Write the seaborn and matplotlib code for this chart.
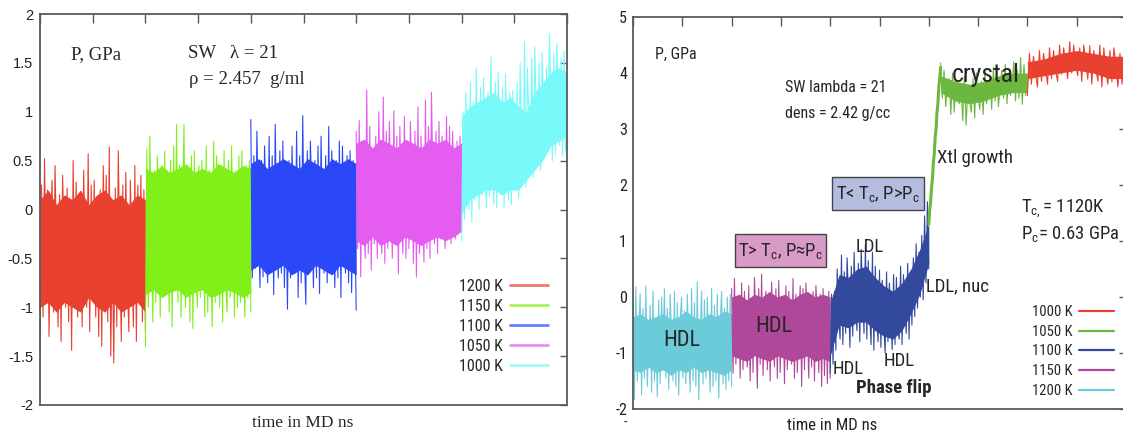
import numpy as np
import matplotlib
matplotlib.use("Agg")
import matplotlib.pyplot as plt
import seaborn as sns
from matplotlib import font_manager as fm
from matplotlib.lines import Line2D
from matplotlib.patches import Rectangle

# ---------------- LEFT PANEL data: SW lambda = 21, rho = 2.457 g/ml ----------------
L_labels = ["1200 K", "1150 K", "1100 K", "1050 K", "1000 K"]
L_spans = [(0, 2), (2, 4), (4, 6), (6, 8), (8, 10)]
L_yticks = [-2, -1.5, -1, -0.5, 0, 0.5, 1, 1.5, 2]
L_yticklabels = ["-2", "-1.5", "-1", "-0.5", "0", "0.5", "1", "1.5", "2"]

L_red = [-1.52, 0.25, -1.1, 0.52, -0.6, 0.2, -1.3, -0.2, 0.3, -1.05, 0.45, -0.4, -1.2, 0.15, -1.35,
         0.35, -0.3, -1.0, 0.22, -1.15, 0.0, -1.44, 0.5, -0.7, 0.28, -1.1, -0.1, 0.18, -1.2, 0.4,
         -0.5, -1.0, 0.57, -1.25, 0.25, -0.8, 0.3, -1.1, -0.2, -1.3, 0.2, -1.4, 0.45, -0.6, 0.35,
         -1.15, 0.64, -1.5, -0.3, -1.57, 0.22, -1.2, 0.6, -0.5, -1.35, 0.25, -1.1, 0.38, -0.7, -1.25,
         0.3, -0.4, -1.2, 0.45, -1.35, 0.25, -0.9, 0.35, -1.15, 0.2, -1.25]
L_red_core_hi = [0.1, 0.2, 0.05, 0.15, 0.1, 0.2, 0.05, 0.15, 0.2, 0.1, 0.15, 0.05, 0.15, 0.1]
L_red_core_lo = [-1.0, -0.95, -1.05, -0.95, -1.0, -1.05, -0.9, -1.0, -1.05, -0.95, -1.05, -1.0, -0.95, -1.05]

L_grn = [-1.4, 0.62, -1.0, 0.75, -0.3, -1.15, 0.4, -0.95, 0.55, -0.2, -1.1, 0.45, -0.9, 0.6, -0.4,
         0.35, -1.05, 0.5, -1.2, 0.65, -0.5, 0.87, -0.95, 0.45, -1.1, 0.1, 0.87, -1.0, -0.3, 0.4,
         -1.15, 0.55, -1.22, 0.6, -0.6, -1.0, 0.45, -0.9, 0.5, 0.0, -1.1, 0.65, -1.05, 0.4, -0.4,
         -1.2, 0.7, -0.95, 0.55, -0.2, -1.0, 0.45, -1.15, 0.6, -0.7, -1.05, 0.5, -0.9, 0.65, -0.1,
         -1.1, 0.4, -1.0, 0.55, -0.95, 0.6, -0.5, -1.1, 0.45, -0.9, 0.5, -1.05]
L_grn_core_hi = [0.42, 0.38, 0.45, 0.38, 0.42, 0.47, 0.38, 0.42, 0.38, 0.47, 0.42, 0.38, 0.45, 0.42]
L_grn_core_lo = [-0.87, -0.82, -0.9, -0.85, -0.82, -0.9, -0.85, -0.82, -0.9, -0.87, -0.82, -0.85, -0.9, -0.85]

L_blu = [0.92, -0.7, 0.55, -0.6, 0.8, -0.1, -0.8, 0.5, -0.69, 0.65, 0.0, -0.75, 0.75, -0.6, 0.55,
         -0.87, 0.87, -0.3, -0.7, 0.6, -0.65, 0.7, -0.8, 0.2, -1.02, 0.5, -0.7, 0.65, -0.2, -0.65,
         0.8, -0.9, 0.55, -0.75, 0.96, -0.4, -0.97, 0.6, -0.65, 0.7, 0.1, -0.8, 0.5, -0.7, 0.65,
         -0.86, 0.75, -0.3, -0.65, 0.55, -0.75, 0.85, -0.6, 0.6, -0.1, -0.8, 0.5, -0.7, 0.7, -0.9,
         0.65, -0.2, -0.65, 0.55, -0.75, 0.6, -0.85, 0.5, 0.0, -1.03]
L_blu_core_hi = [0.47, 0.52, 0.42, 0.47, 0.52, 0.47, 0.42, 0.52, 0.47, 0.42, 0.52, 0.47, 0.52, 0.47]
L_blu_core_lo = [-0.62, -0.57, -0.67, -0.62, -0.57, -0.67, -0.62, -0.67, -0.57, -0.62, -0.67, -0.57, -0.62, -0.67]

L_mag = [0.8, -0.4, 0.91, -0.69, 0.7, -0.1, -0.5, 1.22, -0.45, 0.85, -0.62, 0.4, -0.35, 0.75, -0.5,
         1.0, 0.1, -0.45, 1.15, -0.55, 0.8, -0.4, 0.9, 0.2, -0.5, 1.01, -0.35, 0.75, -0.66, 0.85,
         0.0, -0.45, 0.95, -0.5, 0.7, -0.4, 0.9, 0.3, -0.55, 0.8, -0.69, 1.05, -0.45, 0.75, 0.1,
         -0.54, 1.12, -0.4, 0.85, -0.5, 1.2, 0.2, -0.35, 0.8, -0.45, 0.9, -0.3, 0.75, 0.0, -0.4,
         0.95, -0.25, 0.85, -0.35, 0.8, 0.3, -0.3, 0.7, -0.25, 0.75, -0.2]
L_mag_core_hi = [0.68, 0.72, 0.63, 0.72, 0.68, 0.63, 0.72, 0.68, 0.63, 0.72, 0.68, 0.72, 0.63, 0.68]
L_mag_core_lo = [-0.32, -0.37, -0.28, -0.37, -0.32, -0.37, -0.28, -0.32, -0.37, -0.32, -0.28, -0.32, -0.28, -0.22]

L_cya = [-0.32, 1.0, -0.1, 1.2, 0.5, 0.0, 1.3, -0.13, 1.1, 0.1, 1.45, 0.6, 0.0, 1.25, 0.15,
         1.35, 0.4, 0.02, 1.2, 0.13, 1.56, 0.7, 0.05, 1.3, 0.02, 1.4, 0.5, 0.15, 1.25, 0.02,
         1.39, 0.6, 0.1, 1.2, 0.05, 1.22, 0.7, 0.2, 1.3, 0.11, 1.5, 0.8, 0.35, 1.72, 0.23,
         1.45, 0.9, 0.45, 1.55, 0.33, 1.66, 1.0, 0.5, 1.5, 0.4, 1.6, 1.0, 0.55, 1.45, 0.6,
         1.8, 1.1, 0.5, 1.6, 0.56, 1.7, 1.2, 0.65, 1.55, 0.55, 1.62, 0.6, 1.5]
L_cya_core_hi = [0.95, 1.05, 1.1, 1.15, 1.2, 1.1, 1.15, 1.05, 1.0, 1.2, 1.3, 1.4, 1.45, 1.4]
L_cya_core_lo = [-0.05, 0.1, 0.15, 0.2, 0.2, 0.15, 0.2, 0.2, 0.3, 0.4, 0.5, 0.65, 0.7, 0.75]

# ---------------- RIGHT PANEL data: SW lambda = 21, dens = 2.42 g/cc ----------------
R_labels = ["1200 K", "1150 K", "1100 K", "1050 K", "1000 K"]
R_legend_order = ["1000 K", "1050 K", "1100 K", "1150 K", "1200 K"]
R_spans = [(0, 2), (2, 4), (4, 6), (6, 8), (8, 10)]
R_yticks = [-2, -1, 0, 1, 2, 3, 4, 5]
R_yticklabels = ["-2", "-1", "0", "1", "2", "3", "4", "5"]

R_cya = [-0.1, -1.84, 0.18, -1.5, -0.6, 0.06, -1.75, -0.2, -1.45, 0.2, -1.6, -0.9, -0.15, -1.7, 0.1,
         -1.5, -0.5, -1.78, -0.05, -1.55, 0.0, -1.0, 0.15, -1.45, -0.2, -1.65, 0.05, -0.7, -1.5, 0.1,
         -1.6, -0.1, -1.75, -0.4, 0.0, -1.45, -0.25, -1.55, 0.05, -0.9, -1.7, 0.15, -1.5, -0.1, -1.6,
         0.27, -1.84, -0.6, 0.1, -1.55, -0.05, -1.45, 0.0, -1.0, -1.7, 0.15, -1.6, -0.15, -1.5, 0.05,
         -1.8, -0.5, 0.1, -1.55, -0.2, -1.65, 0.0, -1.5, 0.05, -1.6]
R_cya_core_hi = [-0.35, -0.3, -0.4, -0.35, -0.3, -0.4, -0.35, -0.25, -0.35, -0.4, -0.3, -0.35, -0.25, -0.3]
R_cya_core_lo = [-1.3, -1.35, -1.25, -1.35, -1.3, -1.4, -1.3, -1.35, -1.25, -1.35, -1.3, -1.35, -1.4, -1.3]

R_mag = [0.15, -1.36, 0.33, -1.2, -0.4, 0.0, -1.45, 0.25, -1.3, 0.1, -0.8, -1.25, 0.2, -1.5, -0.05,
         -1.35, 0.35, -0.5, -1.63, 0.15, -1.2, 0.41, -1.4, -0.3, 0.1, -1.3, 0.05, -1.5, 0.27, -0.7,
         -1.25, 0.15, -1.45, 0.3, -1.35, -0.2, 0.0, -1.55, 0.2, -1.3, 0.1, -0.9, -1.2, 0.33, -1.45,
         0.05, -1.35, -0.4, 0.2, -1.6, 0.15, -1.3, 0.25, -0.6, -1.45, 0.0, -1.25, 0.1, -1.5, 0.2,
         -0.3, -1.35, 0.05, -1.6, 0.15, -1.4, 0.0, -1.55, 0.1, -1.45]
R_mag_core_hi = [0.0, 0.05, -0.05, 0.05, 0.0, 0.1, 0.0, 0.05, -0.05, 0.05, 0.1, 0.0, 0.05, 0.0]
R_mag_core_lo = [-1.05, -1.1, -1.15, -1.05, -1.1, -1.15, -1.05, -1.1, -1.15, -1.1, -1.05, -1.15, -1.1, -1.15]

R_blu = [-1.36, 0.05, -1.2, 0.1, -0.95, 0.5, -0.3, -0.75, 0.75, -0.85, 0.45, -0.65, 0.7, 0.0, -0.9,
         0.55, -0.7, 0.8, -0.2, -0.6, 0.6, -0.8, 0.85, 0.1, -0.65, 0.95, -0.75, 0.65, -0.3, -0.85,
         0.8, -0.95, 0.55, -0.4, -0.8, 0.48, -0.9, 0.3, -0.5, -1.0, 0.45, -0.8, 0.25, -0.3, -0.94,
         0.4, -0.85, 0.35, -0.6, -0.75, 0.55, -0.85, 0.4, -0.2, -0.65, 0.6, -0.75, 0.45, -0.5, 0.7,
         -0.35, 0.95, -0.2, 0.8, 0.0, 1.1, -0.05, 1.45, 0.25, 1.7, 0.5]
R_blu_core_hi = [-0.1, 0.4, 0.35, 0.5, 0.55, 0.35, 0.2, 0.1, 0.25, 0.5, 0.85, 1.3]
R_blu_core_lo = [-1.05, -0.5, -0.55, -0.45, -0.45, -0.6, -0.7, -0.75, -0.6, -0.3, 0.05, 0.6]

R_grn_rise = [1.3, 1.55, 1.7, 1.95, 2.1, 2.4, 2.55, 2.85, 3.0, 3.3, 3.45, 3.75, 3.9, 4.1]
R_grn_rise_end = 6.24
R_grn = [4.18, 3.55, 4.05, 3.4, 3.8, 3.9, 3.26, 4.0, 3.3, 3.85, 3.6, 3.45, 3.8, 3.15, 3.95,
         3.07, 3.75, 3.5, 3.3, 3.9, 3.2, 4.0, 3.6, 3.35, 3.85, 3.26, 4.05, 3.45, 3.7, 3.95,
         3.35, 4.1, 3.5, 3.9, 3.4, 3.75, 4.05, 3.55, 4.15, 3.45, 4.0, 3.6, 3.8, 4.2, 3.5,
         4.05, 3.55, 4.28, 3.44, 4.15, 3.6, 3.9]
R_grn_core_hi = [3.95, 3.85, 3.8, 3.85, 3.95, 4.0, 4.0]
R_grn_core_lo = [3.65, 3.5, 3.45, 3.5, 3.6, 3.65, 3.65]

R_red = [3.6, 4.35, 3.8, 4.3, 4.0, 3.75, 4.4, 3.85, 4.35, 4.1, 3.8, 4.45, 3.9, 4.4, 4.05,
         3.85, 4.5, 3.98, 4.45, 4.2, 3.9, 4.56, 4.0, 4.5, 4.15, 3.95, 4.45, 3.85, 4.5, 4.2,
         3.89, 4.49, 3.8, 4.4, 4.1, 3.85, 4.5, 3.75, 4.45, 4.0, 3.8, 4.4, 3.84, 4.45, 4.1,
         3.75, 4.35, 3.8, 4.4, 3.9]
R_red_core_hi = [4.2, 4.25, 4.35, 4.4, 4.35, 4.3, 4.3]
R_red_core_lo = [3.9, 3.95, 4.0, 4.05, 4.0, 3.9, 3.9]

# ---------------- styles ----------------
L_colors = ["#e8412f", "#80f018", "#2a48f8", "#e45cf0", "#78fafa"]
R_colors = {"1200 K": "#6ccbd9", "1150 K": "#b0489a", "1100 K": "#33499e",
            "1050 K": "#6cb83e", "1000 K": "#e8412f"}
SPINE = "#5a5a5a"

sns.set_style("white")
names = {f.name for f in fm.fontManager.ttflist}
NARROW = None
for cand in ["Liberation Sans Narrow", "Roboto Condensed", "Open Sans Condensed"]:
    if cand in names:
        NARROW = cand
        break
NS = 1.0
if NARROW is None:
    NARROW = "Liberation Sans"
    NS = 0.84
plt.rcParams["font.family"] = ["Liberation Sans", "DejaVu Sans"]
plt.rcParams["axes.unicode_minus"] = False
plt.rcParams["mathtext.default"] = "regular"
SERIF = ["Liberation Serif", "DejaVu Serif"]
NAR = [NARROW, "DejaVu Sans"]

W, H = 1123, 432
fig = plt.figure(figsize=(W / 100, H / 100), dpi=100)


def rect(x0, x1, yt, yb):
    return [x0 / W, 1 - yb / H, (x1 - x0) / W, (yb - yt) / H]


axL = fig.add_axes(rect(40, 567, 14, 405))
axR = fig.add_axes(rect(633, 1126, 17, 409))


def draw_segment(ax, span, trace, core_hi, core_lo, color, lw=0.8):
    a, b = span
    xc = np.linspace(a, b, len(core_hi))
    ax.fill_between(xc, core_lo, core_hi, color=color, lw=0)
    xs = np.linspace(a, b, len(trace))
    sns.lineplot(x=xs, y=trace, ax=ax, color=color, lw=lw, estimator=None,
                 sort=False, legend=False)


# ----- left panel -----
L_data = [(L_red, L_red_core_hi, L_red_core_lo),
          (L_grn, L_grn_core_hi, L_grn_core_lo),
          (L_blu, L_blu_core_hi, L_blu_core_lo),
          (L_mag, L_mag_core_hi, L_mag_core_lo),
          (L_cya, L_cya_core_hi, L_cya_core_lo)]
for span, d, c in zip(L_spans, L_data, L_colors):
    draw_segment(axL, span, *d, c)

# ----- right panel -----
R_data = [(R_cya, R_cya_core_hi, R_cya_core_lo),
          (R_mag, R_mag_core_hi, R_mag_core_lo),
          (R_blu, R_blu_core_hi, R_blu_core_lo)]
for span, d, lab in zip(R_spans[:3], R_data, R_labels[:3]):
    draw_segment(axR, span, *d, R_colors[lab])
g0, g1 = R_spans[3]
xr = np.linspace(g0, R_grn_rise_end, len(R_grn_rise))
sns.lineplot(x=xr, y=R_grn_rise, ax=axR, color=R_colors["1050 K"], lw=2.2,
             estimator=None, sort=False, legend=False)
draw_segment(axR, (R_grn_rise_end, g1), R_grn, R_grn_core_hi, R_grn_core_lo,
             R_colors["1050 K"])
draw_segment(axR, R_spans[4], R_red, R_red_core_hi, R_red_core_lo, R_colors["1000 K"])

# ----- axes styling -----
for ax in (axL, axR):
    ax.set_xlim(0, 10)
    ax.set_xticks(np.arange(0, 11, 1))
    ax.tick_params(axis="both", which="both", direction="in", top=True, right=True,
                   color=SPINE, width=1.0)
    ax.tick_params(axis="x", length=6.5, labelbottom=False)
    for s in ax.spines.values():
        s.set_color(SPINE)
        s.set_linewidth(1.3)
        s.set_visible(True)
    ax.set_facecolor("white")

axL.set_ylim(-2, 2)
axL.set_yticks(L_yticks)
axL.set_yticklabels(L_yticklabels, fontsize=10.5, color="#222222")
axL.tick_params(axis="y", length=5, pad=5)
axR.set_ylim(-2, 5)
axR.set_yticks(R_yticks)
axR.set_yticklabels(R_yticklabels, fontsize=11.5 * NS, color="#222222", family=NAR)
axR.tick_params(axis="y", length=5, pad=4.3)

# ----- left annotations -----
axL.text(0.59, 1.58, "P, GPa", family=SERIF, fontsize=13.5, va="center", ha="left")
axL.text(2.8, 1.60, "SW   \u03bb = 21", family=SERIF, fontsize=13.5, va="center", ha="left")
axL.text(2.83, 1.33, "\u03c1 = 2.457  g/ml", family=SERIF, fontsize=13.5, va="center", ha="left")
fig.text(303 / W, 1 - 422.7 / H, "time in MD ns", family=SERIF, fontsize=12.5,
         ha="center", va="center")

hL = [Line2D([], [], color=c, lw=2, alpha=0.7) for c in L_colors]
axL.legend(hL, L_labels, loc="upper right", bbox_to_anchor=(548 / W, 1 - 279 / H),
           bbox_transform=fig.transFigure, frameon=False, markerfirst=False,
           borderpad=0, borderaxespad=0, handlelength=2.4, handletextpad=0.45,
           labelspacing=0.31, prop={"family": NAR, "size": 11.5 * NS})


# ----- right annotations -----
def rtext(x, y, s, size, **kw):
    axR.text(x, y, s, family=NAR, fontsize=size * NS, va="center", ha="left", **kw)


rtext(0.45, 4.34, "P, GPa", 11.5)
rtext(3.08, 3.75, "SW lambda = 21", 11.5)
rtext(3.08, 3.28, "dens = 2.42 g/cc", 11.5)
rtext(6.47, 3.97, "crystal", 18.5)
rtext(6.17, 2.48, "Xtl growth", 13.5)
rtext(4.52, 0.89, "LDL", 13.5)
rtext(5.94, 0.19, "LDL, nuc", 13.5)
rtext(0.61, -0.77, "HDL", 16)
rtext(2.47, -0.53, "HDL", 16)
rtext(4.04, -1.28, "HDL", 13.5)
rtext(5.09, -1.14, "HDL", 13.5)
rtext(4.52, -1.62, "Phase flip", 13.5, fontweight="bold")
rtext(7.87, 1.57, "T$_{c,}$= 1120K", 13.5)
rtext(7.87, 1.12, "P$_c$= 0.63 GPa", 13.5)

axR.add_patch(Rectangle((2.07, 0.53), 1.84, 0.59, fc="#d99ac6", ec="#444444", lw=1.0, zorder=3))
axR.text(2.99, 0.83, "T> T$_c$, P\u2248P$_c$", family=NAR, fontsize=13.5 * NS,
         ha="center", va="center", zorder=4)
axR.add_patch(Rectangle((4.04, 1.55), 1.86, 0.59, fc="#b4bce0", ec="#444444", lw=1.0, zorder=3))
axR.text(4.97, 1.84, "T< T$_c$, P>P$_c$", family=NAR, fontsize=13.5 * NS,
         ha="center", va="center", zorder=4)

fig.text(832 / W, 1 - 425.5 / H, "time in MD ns", family=NAR, fontsize=12 * NS,
         ha="center", va="center", color="#222222")
fig.text(625 / W, 1 - 423 / H, "-", family=NAR, fontsize=10 * NS, ha="center",
         va="center", color="#222222")

hR = [Line2D([], [], color=R_colors[k], lw=1.6) for k in R_legend_order]
axR.legend(hR, R_legend_order, loc="upper right", bbox_to_anchor=(1114 / W, 1 - 305 / H),
           bbox_transform=fig.transFigure, frameon=False, markerfirst=False,
           borderpad=0, borderaxespad=0, handlelength=2.4, handletextpad=0.42,
           labelspacing=0.39, prop={"family": NAR, "size": 10.5 * NS})

fig.savefig("out.png", dpi=100, facecolor="white")
